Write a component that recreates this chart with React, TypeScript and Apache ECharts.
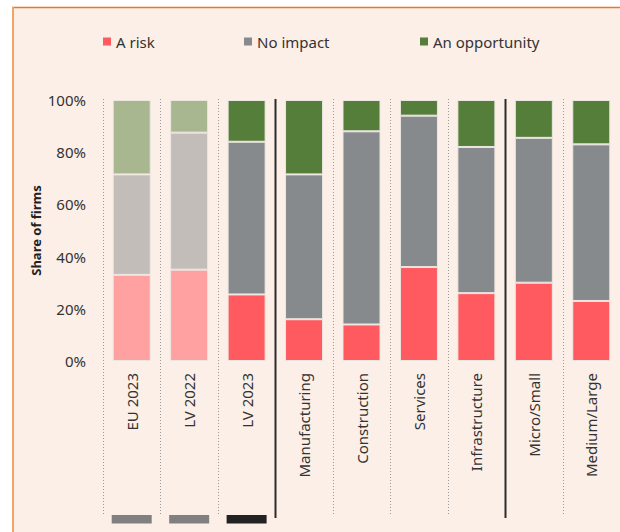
import React, { useEffect, useRef } from "react";
import * as echarts from "echarts";

const categories = [
  "EU 2023",
  "LV 2022",
  "LV 2023",
  "Manufacturing",
  "Construction",
  "Services",
  "Infrastructure",
  "Micro/Small",
  "Medium/Large",
];
const riskValues = [33, 35, 25.5, 16, 14, 36, 26, 30, 23];
const noImpactValues = [38.5, 52.5, 58.5, 55.5, 74, 58, 56, 55.5, 60];
const opportunityValues = [28.5, 12.5, 16, 28.5, 12, 6, 18, 14.5, 17];
const fadedCategories = [0, 1];
const yTicks = [0, 20, 40, 60, 80, 100];
// boundaries before category index; solid ones separate groups
const boundaryIndices = [0, 1, 2, 3, 4, 5, 6, 7, 8];
const solidBoundaries = [3, 7];
const markerIndices = [0, 1, 2];
const markerColors = ["#808080", "#808080", "#222222"];

const COLORS = {
  risk: "#FF5A5F",
  riskFaded: "#FFA1A1",
  none: "#878A8C",
  noneFaded: "#C2BDB9",
  opp: "#557E3B",
  oppFaded: "#A8B78F",
};

const FONT = "'Noto Sans', 'Open Sans', sans-serif";

function makeData(values: number[], color: string, faded: string) {
  return values.map((v, i) => ({
    value: v,
    itemStyle: { color: fadedCategories.includes(i) ? faded : color },
  }));
}

export default function App() {
  const ref = useRef<HTMLDivElement>(null);

  useEffect(() => {
    if (!ref.current) return;
    const chart = echarts.init(ref.current, null, { renderer: "svg" });

    const barCommon = {
      type: "bar" as const,
      stack: "total",
      barWidth: 38,
      itemStyle: { borderColor: "#ECE6E1", borderWidth: 1 },
      emphasis: { disabled: true },
    };

    const legendCommon = {
      top: 34,
      padding: 0,
      icon: "rect",
      itemWidth: 8,
      itemHeight: 8,
      itemGap: 4,
      itemStyle: { borderWidth: 0 },
      textStyle: { fontSize: 15, color: "#333333", fontFamily: FONT },
      selectedMode: false,
    };

    const option: any = {
      animation: false,
      backgroundColor: "#FFFFFF",
      textStyle: { fontFamily: FONT },
      graphic: [
        {
          type: "rect",
          silent: true,
          z: -10,
          shape: { x: 13, y: 7, width: 607, height: 525 },
          style: { fill: "#FCEFE7" },
        },
        {
          type: "line",
          silent: true,
          z: -9,
          shape: { x1: 12, y1: 7.5, x2: 620, y2: 7.5 },
          style: { stroke: "#E67726", lineWidth: 1.5 },
        },
        {
          type: "line",
          silent: true,
          z: -9,
          shape: { x1: 13, y1: 7, x2: 13, y2: 532 },
          style: { stroke: "#F2A367", lineWidth: 2 },
        },
      ],
      legend: [
        { ...legendCommon, left: 103, data: ["A risk"] },
        { ...legendCommon, left: 244, data: ["No impact"] },
        { ...legendCommon, left: 420, data: ["An opportunity"] },
      ],
      grid: { left: 103, top: 100, width: 518, height: 261, containLabel: false },
      xAxis: {
        type: "category",
        data: categories,
        axisLine: { show: false },
        axisTick: { show: false },
        splitLine: { show: false },
        axisLabel: {
          rotate: 90,
          margin: 12,
          fontSize: 15,
          color: "#333333",
          fontFamily: FONT,
          interval: 0,
        },
      },
      yAxis: {
        type: "value",
        min: 0,
        max: 100,
        interval: 20,
        name: "Share of firms",
        nameLocation: "middle",
        nameRotate: 90,
        nameGap: 61,
        nameMoveOverlap: false,
        nameTextStyle: { fontSize: 13, fontWeight: "bold", color: "#222222", fontFamily: FONT },
        axisLine: { show: false },
        axisTick: { show: false },
        splitLine: { show: false },
        axisLabel: {
          margin: 17,
          fontSize: 15,
          color: "#333333",
          fontFamily: FONT,
          formatter: (v: number) => (yTicks.includes(v) ? `${v}%` : ""),
        },
      },
      series: [
        {
          ...barCommon,
          name: "A risk",
          color: COLORS.risk,
          data: makeData(riskValues, COLORS.risk, COLORS.riskFaded),
        },
        {
          ...barCommon,
          name: "No impact",
          color: COLORS.none,
          data: makeData(noImpactValues, COLORS.none, COLORS.noneFaded),
        },
        {
          ...barCommon,
          name: "An opportunity",
          color: COLORS.opp,
          data: makeData(opportunityValues, COLORS.opp, COLORS.oppFaded),
        },
        {
          type: "custom",
          name: "separators",
          clip: false,
          silent: true,
          z: 3,
          data: boundaryIndices.map((i) => [i, 0]),
          renderItem: (params: any, api: any) => {
            const idx = api.value(0);
            const center = api.coord([idx, 0]);
            const top = api.coord([idx, 100]);
            const band = api.size([1, 0])[0];
            const x = Math.round(center[0] - band / 2) + 0.5;
            const solid = solidBoundaries.includes(idx);
            return {
              type: "line",
              shape: {
                x1: x,
                y1: top[1] - 1,
                x2: x,
                y2: center[1] + (solid ? 157 : 155),
              },
              style: solid
                ? { stroke: "#2B2B2B", lineWidth: 2 }
                : { stroke: "#9A9A9A", lineWidth: 1, lineDash: [1, 2] },
            };
          },
        },
        {
          type: "custom",
          name: "markers",
          clip: false,
          silent: true,
          z: 3,
          data: markerIndices.map((i) => [i, 0]),
          renderItem: (params: any, api: any) => {
            const idx = api.value(0);
            const base = api.coord([idx, 0]);
            return {
              type: "rect",
              shape: { x: base[0] - 20, y: base[1] + 154, width: 40, height: 8.5 },
              style: { fill: markerColors[params.dataIndex] },
            };
          },
        },
      ],
    };

    chart.setOption(option);
    return () => chart.dispose();
  }, []);

  return (
    <div
      ref={ref}
      style={{ position: "fixed", left: 0, top: 0, width: 620, height: 532 }}
    />
  );
}
